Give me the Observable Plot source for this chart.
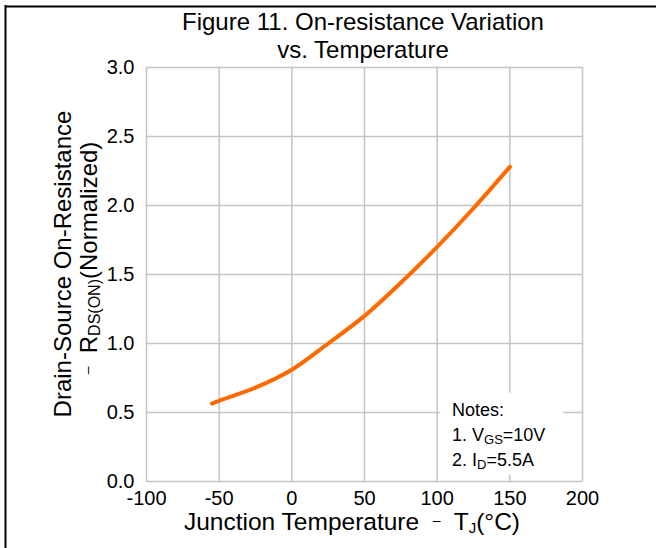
<!DOCTYPE html>
<html>
<head>
<meta charset="utf-8">
<script src="https://cdn.jsdelivr.net/npm/d3@7"></script>
<script src="https://cdn.jsdelivr.net/npm/@observablehq/plot@0.6"></script>
<style>
  html, body { margin: 0; padding: 0; background: #fff; overflow: hidden; }
  svg { display: block; }
</style>
</head>
<body>
<div id="chart"></div>
<script>
// Data
const temperature = [-55, -50, -25, 0, 25, 50, 75, 100, 125, 150];
const rdsNormalized = [0.565, 0.585, 0.68, 0.81, 1.00, 1.20, 1.44, 1.70, 1.98, 2.28];
const xTicks = [-100, -50, 0, 50, 100, 150, 200];
const yTicks = [0.0, 0.5, 1.0, 1.5, 2.0, 2.5, 3.0];
const titleLines = ["Figure 11. On-resistance Variation", "vs. Temperature"];
const notes = ["Notes:", "1. V|GS|=10V", "2. I|D|=5.5A"];

const rows = temperature.map((t, i) => ({t, r: rdsNormalized[i]}));
const FONT = "'Liberation Sans', Arial, Helvetica, sans-serif";
const W = 656, H = 548;
const TICK_FS = 20;

const plot = Plot.plot({
  width: W,
  height: H,
  marginLeft: 146,
  marginRight: 74,
  marginTop: 67,
  marginBottom: 67,
  style: {fontFamily: FONT, fontSize: TICK_FS + "px", color: "#000", background: "#fff"},
  x: {domain: [-100, 200], ticks: xTicks, label: null},
  y: {domain: [0, 3], ticks: yTicks, label: null},
  marks: [
    Plot.gridX(xTicks, {stroke: "#c4c4c4", strokeOpacity: 1, strokeWidth: 1.5}),
    Plot.gridY(yTicks, {stroke: "#c4c4c4", strokeOpacity: 1, strokeWidth: 1.5}),
    Plot.axisX(xTicks, {tickSize: 0, tickPadding: 9, tickFormat: d => String(d), fill: "#000", fontSize: TICK_FS}),
    Plot.axisY(yTicks, {tickSize: 0, tickPadding: 12, tickFormat: d3.format(".1f"), fill: "#000", fontSize: TICK_FS}),
    Plot.line(rows, {x: "t", y: "r", stroke: "#ff6a00", strokeWidth: 4, curve: "catmull-rom"})
  ]
});

document.getElementById("chart").appendChild(plot);
const svg = d3.select(plot);
svg.selectAll("text").style("font-family", FONT).attr("fill", "#000");
const xs = plot.scale("x"), ys = plot.scale("y");

// outer frame (left and top rules)
svg.append("line").attr("x1", 5.5).attr("x2", 5.5).attr("y1", 5).attr("y2", H).attr("stroke", "#000").attr("stroke-width", 2);
svg.append("line").attr("x1", 5).attr("x2", W).attr("y1", 6.5).attr("y2", 6.5).attr("stroke", "#000").attr("stroke-width", 2);

function txt(x, y, size, anchor) {
  return svg.append("text").attr("x", x).attr("y", y).attr("text-anchor", anchor || "middle")
    .attr("font-family", FONT).attr("font-size", size).attr("fill", "#000");
}

// title
titleLines.forEach((s, i) => { txt(363, 30 + i * 28, 24).text(s); });

// x axis title
const xt = txt(352, 530, 24.5);
xt.append("tspan").text("Junction Temperature  ");
xt.append("tspan").attr("font-size", 14).attr("dy", -5).text("\u2013");
xt.append("tspan").attr("dy", 5).text("  T");
xt.append("tspan").attr("font-size", 15).attr("dy", 3).text("J");
xt.append("tspan").attr("dy", -3).text("(°C)");

// y axis title (two rotated lines)
svg.append("text").attr("transform", "translate(71,264) rotate(-90)")
  .attr("text-anchor", "middle").attr("font-family", FONT).attr("font-size", 24).attr("fill", "#000")
  .text("Drain-Source On-Resistance");
const yt2 = svg.append("text").attr("transform", "translate(97,258) rotate(-90)")
  .attr("text-anchor", "middle").attr("font-family", FONT).attr("font-size", 24).attr("fill", "#000");
yt2.append("tspan").attr("font-size", 14).attr("dy", -5).text("\u2013");
yt2.append("tspan").attr("dy", 5).text("  R");
yt2.append("tspan").attr("font-size", 16).attr("dy", 3).text("DS(ON)");
yt2.append("tspan").attr("dy", -3).text("(Normalized)");

// notes box (legend)
const bx0 = xs.apply(102.5), bx1 = xs.apply(187);
const by0 = ys.apply(0.64), by1 = ys.apply(0.045);
svg.append("rect").attr("x", bx0).attr("y", by0).attr("width", bx1 - bx0).attr("height", by1 - by0).attr("fill", "#fff");
notes.forEach((s, i) => {
  const t = txt(452, by0 + 23 + i * 25, 18, "start");
  s.split("|").forEach((p, j) => {
    const ts = t.append("tspan").text(p);
    if (j === 1) ts.attr("font-size", 13).attr("dy", 3);
    if (j === 2) ts.attr("dy", -3);
  });
});
</script>
</body>
</html>
